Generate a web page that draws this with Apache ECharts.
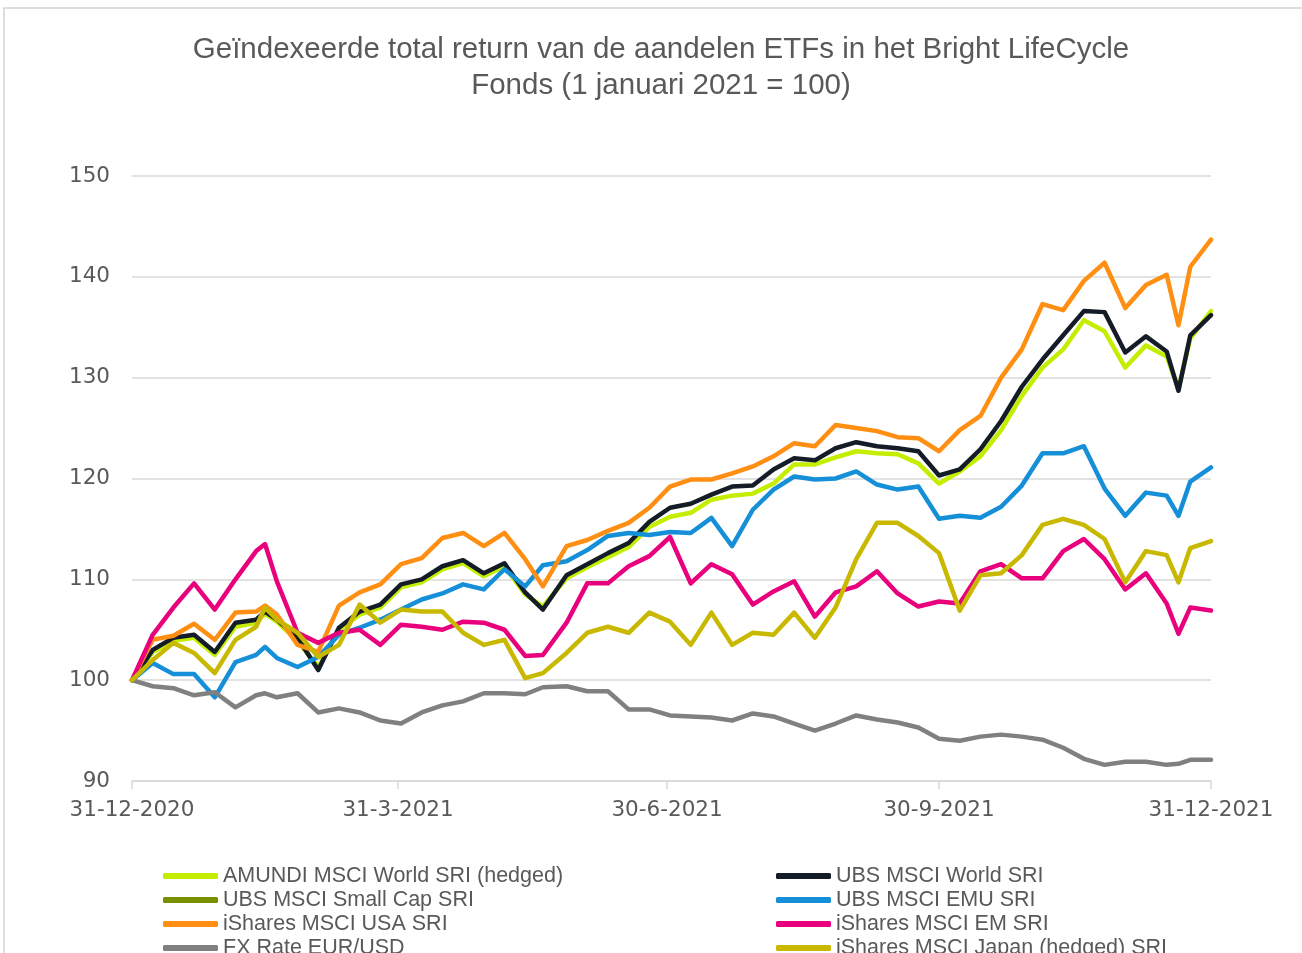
<!DOCTYPE html>
<html>
<head>
<meta charset="utf-8">
<style>
  html, body { margin: 0; padding: 0; background: #fff; }
  #chart { width: 1302px; height: 953px; }
</style>
<script src="https://cdn.jsdelivr.net/npm/echarts@6/dist/echarts.min.js"></script>
</head>
<body>
<div id="chart"></div>
<script>
/* Geïndexeerde total return, 1 jan 2021 = 100. Wekelijkse punten,
   x = dagen sinds 31-12-2020. */

const days = [0, 7, 14, 21, 28, 35, 42, 45, 49, 56, 63, 70, 77, 84, 91, 98, 105, 112, 119, 126,
  133, 139, 147, 154, 161, 168, 175, 182, 189, 196, 203, 210, 217, 224, 231, 238, 245, 252, 259, 266,
  273, 280, 287, 294, 301, 308, 315, 322, 329, 336, 343, 350, 354, 358, 365];

const tickDays = [0, 90, 181, 273, 365];
const tickLabels = ['31-12-2020', '31-3-2021', '30-6-2021', '30-9-2021', '31-12-2021'];

const amundiWorld = [100, 102.8, 103.9, 104.2, 102.5, 105.3, 105.7, 106.6, 105.8, 103.9,
  101.3, 105, 106.5, 107.2, 109.2, 109.7, 111, 111.6, 110.3, 111.3,
  108.5, 107.3, 110.1, 111.2, 112.2, 113.2, 115.2, 116.2, 116.6, 117.9,
  118.3, 118.5, 119.5, 121.4, 121.4, 122.1, 122.7, 122.5, 122.4, 121.5,
  119.5, 120.7, 122.2, 124.8, 128.2, 131, 132.8, 135.7, 134.6, 131,
  133.2, 132.1, 128.9, 133.9, 136.6];

const ubsWorld = [100, 103, 104.2, 104.5, 102.8, 105.7, 106, 106.8, 106, 104.2,
  101, 105.2, 106.8, 107.5, 109.5, 110, 111.3, 111.9, 110.6, 111.6,
  108.7, 107, 110.4, 111.5, 112.6, 113.6, 115.7, 117.1, 117.5, 118.4,
  119.2, 119.3, 120.9, 122, 121.8, 123, 123.6, 123.2, 123, 122.7,
  120.3, 120.9, 122.9, 125.7, 129.1, 131.8, 134.2, 136.6, 136.5, 132.5,
  134.1, 132.6, 128.7, 134.2, 136.2];

const ubsSmallCap = [];

const ubsEmu = [100, 101.7, 100.6, 100.6, 98.3, 101.8, 102.5, 103.3, 102.2, 101.3,
  102.3, 104.5, 105.2, 106, 107, 108, 108.6, 109.5, 109, 111,
  109.3, 111.4, 111.8, 112.9, 114.3, 114.6, 114.4, 114.7, 114.6, 116.1,
  113.3, 116.9, 118.9, 120.2, 119.9, 120, 120.7, 119.4, 118.9, 119.2,
  116, 116.3, 116.1, 117.2, 119.3, 122.5, 122.5, 123.2, 119, 116.3,
  118.6, 118.3, 116.3, 119.7, 121.1];

const isharesUsa = [100, 104, 104.4, 105.6, 104, 106.7, 106.8, 107.4, 106.5, 103.5,
  102.8, 107.4, 108.7, 109.5, 111.5, 112.1, 114.1, 114.6, 113.3, 114.6,
  112, 109.3, 113.3, 113.9, 114.8, 115.6, 117.1, 119.2, 119.9, 119.9,
  120.5, 121.2, 122.2, 123.5, 123.2, 125.3, 125, 124.7, 124.1, 124,
  122.7, 124.8, 126.2, 130, 132.8, 137.3, 136.7, 139.6, 141.4, 136.9,
  139.2, 140.2, 135.2, 141, 143.7];

const isharesEm = [100, 104.5, 107.2, 109.6, 107, 110, 112.8, 113.5, 109.8, 104.7,
  103.7, 104.7, 105, 103.5, 105.5, 105.3, 105, 105.8, 105.7, 105,
  102.4, 102.5, 105.7, 109.6, 109.6, 111.3, 112.3, 114.2, 109.6, 111.5,
  110.5, 107.5, 108.8, 109.8, 106.3, 108.7, 109.3, 110.8, 108.6, 107.3,
  107.8, 107.6, 110.8, 111.5, 110.1, 110.1, 112.8, 114, 112, 109,
  110.6, 107.6, 104.6, 107.2, 106.9];

const fxEurUsd = [100, 99.4, 99.2, 98.5, 98.8, 97.3, 98.5, 98.7, 98.3, 98.7,
  96.8, 97.2, 96.8, 96, 95.7, 96.8, 97.5, 97.9, 98.7, 98.7,
  98.6, 99.3, 99.4, 98.9, 98.9, 97.1, 97.1, 96.5, 96.4, 96.3,
  96, 96.7, 96.4, 95.7, 95, 95.7, 96.5, 96.1, 95.8, 95.3,
  94.2, 94, 94.4, 94.6, 94.4, 94.1, 93.3, 92.2, 91.6, 91.9,
  91.9, 91.6, 91.7, 92.1, 92.1];

const isharesJapan = [100, 102, 103.7, 102.7, 100.7, 104, 105.3, 107.2, 106, 104.7,
  102.3, 103.5, 107.5, 105.7, 107, 106.8, 106.8, 104.7, 103.5, 104,
  100.2, 100.7, 102.7, 104.7, 105.3, 104.7, 106.7, 105.8, 103.5, 106.7,
  103.5, 104.7, 104.5, 106.7, 104.2, 107.2, 112, 115.6, 115.6, 114.3,
  112.6, 106.9, 110.4, 110.6, 112.4, 115.4, 116, 115.4, 114, 109.7,
  112.8, 112.4, 109.7, 113.1, 113.8];

const TEXT = '#595959';
const GRIDLINE = '#d9d9d9';

// tekenvolgorde zoals in Excel: latere reeksen liggen bovenop
const seriesDefs = [
  { name: 'AMUNDI MSCI World SRI (hedged)', values: amundiWorld, color: '#c3ee00' },
  { name: 'UBS MSCI World SRI', values: ubsWorld, color: '#141d27' },
  { name: 'UBS MSCI Small Cap SRI', values: ubsSmallCap, color: '#789000' },
  { name: 'UBS MSCI EMU SRI', values: ubsEmu, color: '#148fd8' },
  { name: 'iShares MSCI USA SRI', values: isharesUsa, color: '#ff8f12' },
  { name: 'iShares MSCI EM SRI', values: isharesEm, color: '#e8007d' },
  { name: 'FX Rate EUR/USD', values: fxEurUsd, color: '#808080' },
  { name: 'iShares MSCI Japan (hedged) SRI', values: isharesJapan, color: '#c8b800' },
];

const leftNames = ['AMUNDI MSCI World SRI (hedged)', 'UBS MSCI Small Cap SRI', 'iShares MSCI USA SRI', 'FX Rate EUR/USD'];
const rightNames = ['UBS MSCI World SRI', 'UBS MSCI EMU SRI', 'iShares MSCI EM SRI', 'iShares MSCI Japan (hedged) SRI'];

function legendAt(names, left) {
  return {
    data: names, orient: 'vertical', left, top: 864, height: 140, padding: 0,
    icon: 'roundRect', itemWidth: 55, itemHeight: 6, itemGap: 0,
    selectedMode: false,
    textStyle: { color: TEXT, fontFamily: 'Liberation Sans', fontSize: 21.5, lineHeight: 24 },
  };
}

const chart = echarts.init(document.getElementById('chart'), null, { renderer: 'canvas' });
chart.setOption({
  animation: false,
  backgroundColor: '#fff',
  title: {
    text: 'Geïndexeerde total return van de aandelen ETFs in het Bright LifeCycle\nFonds (1 januari 2021 = 100)',
    left: 656, top: 27, textAlign: 'center', // titel staat iets rechts van het midden
    textStyle: { color: TEXT, fontFamily: 'Liberation Sans', fontWeight: 'normal', fontSize: 29.5, lineHeight: 36 },
  },
  graphic: [{
    type: 'rect', silent: true, z: -10,
    shape: { x: 4, y: 8, width: 1320, height: 980 },
    style: { fill: 'none', stroke: '#d4d4d4', lineWidth: 1.5 },
  }],
  legend: [legendAt(leftNames, 163), legendAt(rightNames, 776)],
  grid: { left: 132, right: 91, top: 176, bottom: 172 },
  xAxis: {
    type: 'value', min: 0, max: 365,
    axisLine: { lineStyle: { color: GRIDLINE, width: 1.5 } },
    axisTick: { customValues: tickDays, length: 8, lineStyle: { color: GRIDLINE, width: 1.5 } },
    axisLabel: {
      customValues: tickDays,
      formatter: v => tickLabels[tickDays.indexOf(v)],
      color: TEXT, fontFamily: 'DejaVu Sans', fontSize: 21.5, margin: 18,
    },
    splitLine: { show: false },
  },
  yAxis: {
    type: 'value', min: 90, max: 150, interval: 10,
    axisLine: { show: false },
    axisTick: { show: false },
    axisLabel: { color: TEXT, fontFamily: 'DejaVu Sans', fontSize: 21.5, margin: 22 },
    splitLine: { lineStyle: { color: GRIDLINE, width: 1.5 } },
  },
  series: seriesDefs.map(s => ({
    type: 'line',
    name: s.name,
    data: s.values.map((v, i) => [days[i], v]),
    color: s.color,
    showSymbol: false, symbol: 'none',
    lineStyle: { color: s.color, width: 4.5, cap: 'round', join: 'round' },
    itemStyle: { color: s.color },
  })),
});
</script>
</body>
</html>
